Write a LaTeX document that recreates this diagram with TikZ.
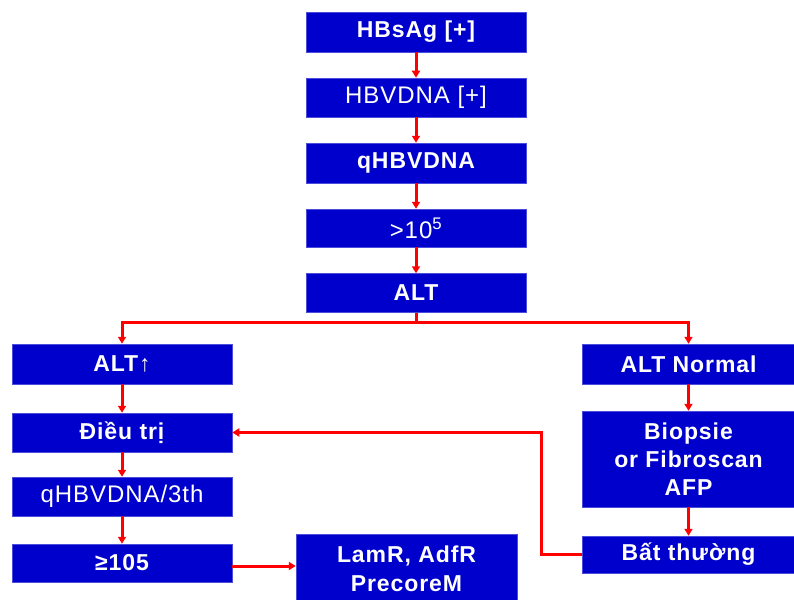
\documentclass[tikz,border=0pt]{standalone}
\usepackage{fontspec}
\setmainfont{Liberation Sans}[LetterSpace=4]
\usetikzlibrary{arrows.meta}
\definecolor{boxblue}{RGB}{0,0,204}
\definecolor{linered}{RGB}{255,0,0}
\begin{document}
\begin{tikzpicture}[x=1pt,y=-1pt,
  box/.style={draw=boxblue!70!white,line width=0.5pt,fill=boxblue,text=white,font=\fontsize{23}{28}\selectfont\bfseries,inner sep=0pt,align=center},
  thin/.style={font=\fontsize{24}{28}\selectfont},
  colbox/.style={box,minimum width=220pt},
  rbox/.style={box,minimum width=212pt},
  arr/.style={draw=linered,line width=3pt,-{Triangle[length=7pt,width=8pt]}},
  ln/.style={draw=linered,line width=3pt}]
\clip (0,0) rectangle (794,599);
\fill[white] (0,0) rectangle (794,599);
% top column
\node[colbox,minimum height=40pt] (n1) at (416,32) {HBsAg [+]};
\node[colbox,minimum height=39pt,thin] (n2) at (416,97.5) {HBVDNA [+]};
\node[colbox,minimum height=40pt] (n3) at (416,163) {qHBVDNA};
\node[colbox,minimum height=38pt,thin] (n4) at (416,228) {>10\textsuperscript{5}};
\node[colbox,minimum height=39pt] (n5) at (416,293) {ALT};
% left column
\node[colbox,minimum height=40pt] (l1) at (122,364) {ALT↑};
\node[colbox,minimum height=39pt] (l2) at (122,432.5) {Điều trị};
\node[colbox,minimum height=39pt,thin] (l3) at (122,496.5) {qHBVDNA/3th};
\node[colbox,minimum height=38pt] (l4) at (122,563) {≥105};
% right column
\node[rbox,minimum height=40pt] (r1) at (688.5,364) {ALT Normal};
\node[rbox,minimum height=96pt] (r2) at (688.5,459) {Biopsie\\or Fibroscan\\AFP};
\node[rbox,minimum height=37pt] (r3) at (688.5,554.5) {Bất thường};
% bottom middle
\node[box,minimum width=221pt,minimum height=70pt,font=\fontsize{23}{29}\selectfont\bfseries] (lam) at (406.5,569) {LamR, AdfR\\PrecoreM};
% connectors
\draw[arr] (n1) -- (n2);
\draw[arr] (n2) -- (n3);
\draw[arr] (n3) -- (n4);
\draw[arr] (n4) -- (n5);
\coordinate (split) at (416,322);
\draw[ln] (n5.south) -- (split);
\draw[arr] (split) -| (l1.north);
\draw[arr] (split) -| (r1.north);
\draw[arr] (l1) -- (l2);
\draw[arr] (l2) -- (l3);
\draw[arr] (l3) -- (l4);
\draw[arr] (r1) -- (r2);
\draw[arr] (r2) -- (r3);
\draw[arr] (l4.east |- 0,566) -- (lam.west |- 0,566);
\draw[arr] (r3.west) -- ++(-41,0) |- (l2.east);
\end{tikzpicture}
\end{document}
